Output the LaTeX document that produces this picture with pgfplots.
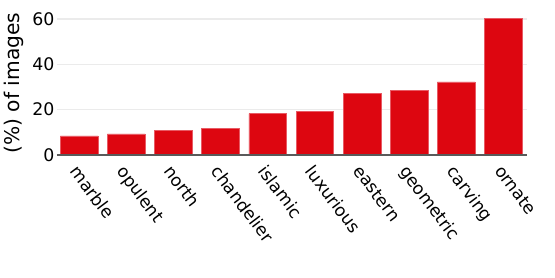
\documentclass[border=0pt]{standalone}
\usepackage{fontspec}
\setmainfont{DejaVu Sans}
\usepackage{pgfplots}
\pgfplotsset{compat=1.18}
\definecolor{barred}{RGB}{221,6,16}
\definecolor{baredge}{RGB}{232,90,100}
\definecolor{gridc}{RGB}{235,235,235}
\definecolor{zeroc}{RGB}{90,90,90}
\begin{document}
\begin{tikzpicture}
\begin{axis}[
  at={(0,0)}, anchor=south west,
  scale only axis, width=470bp, height=144bp,
  xmin=-0.47, xmax=9.5, ymin=0, ymax=63.5,
  ybar, bar width=0.8,
  axis line style={draw=none},
  tick style={draw=none}, major tick length=0pt,
  ymajorgrids, grid style={gridc, line width=1.2bp},
  ytick={0,20,40,60},
  xtick={0,...,9},
  xticklabels={marble,opulent,north,chandelier,islamic,luxurious,eastern,geometric,carving,ornate},
  /pgf/number format/assume math mode=true,
  yticklabel style={font=\fontsize{17.4}{20}\selectfont, xshift=1bp},
  xticklabel style={font=\fontsize{17.2}{20}\selectfont, xshift=1bp, yshift=-4bp, rotate=-53, anchor=north west},
  ylabel={(\%) of images},
  ylabel style={font=\fontsize{20.3}{24}\selectfont, yshift=2bp},
]
\addplot[fill=barred, draw=baredge, line width=0.6bp] coordinates {
(0,8.4) (1,9.3) (2,10.9) (3,11.6) (4,18.3) (5,19.4) (6,27.0) (7,28.5) (8,32.2) (9,60.3)
};
\draw[zeroc, line width=1.3bp] (rel axis cs:0,0) -- (rel axis cs:1,0);
\end{axis}
\path[use as bounding box] (-57bp,-123bp) rectangle (498bp,155bp);
\end{tikzpicture}
\end{document}
